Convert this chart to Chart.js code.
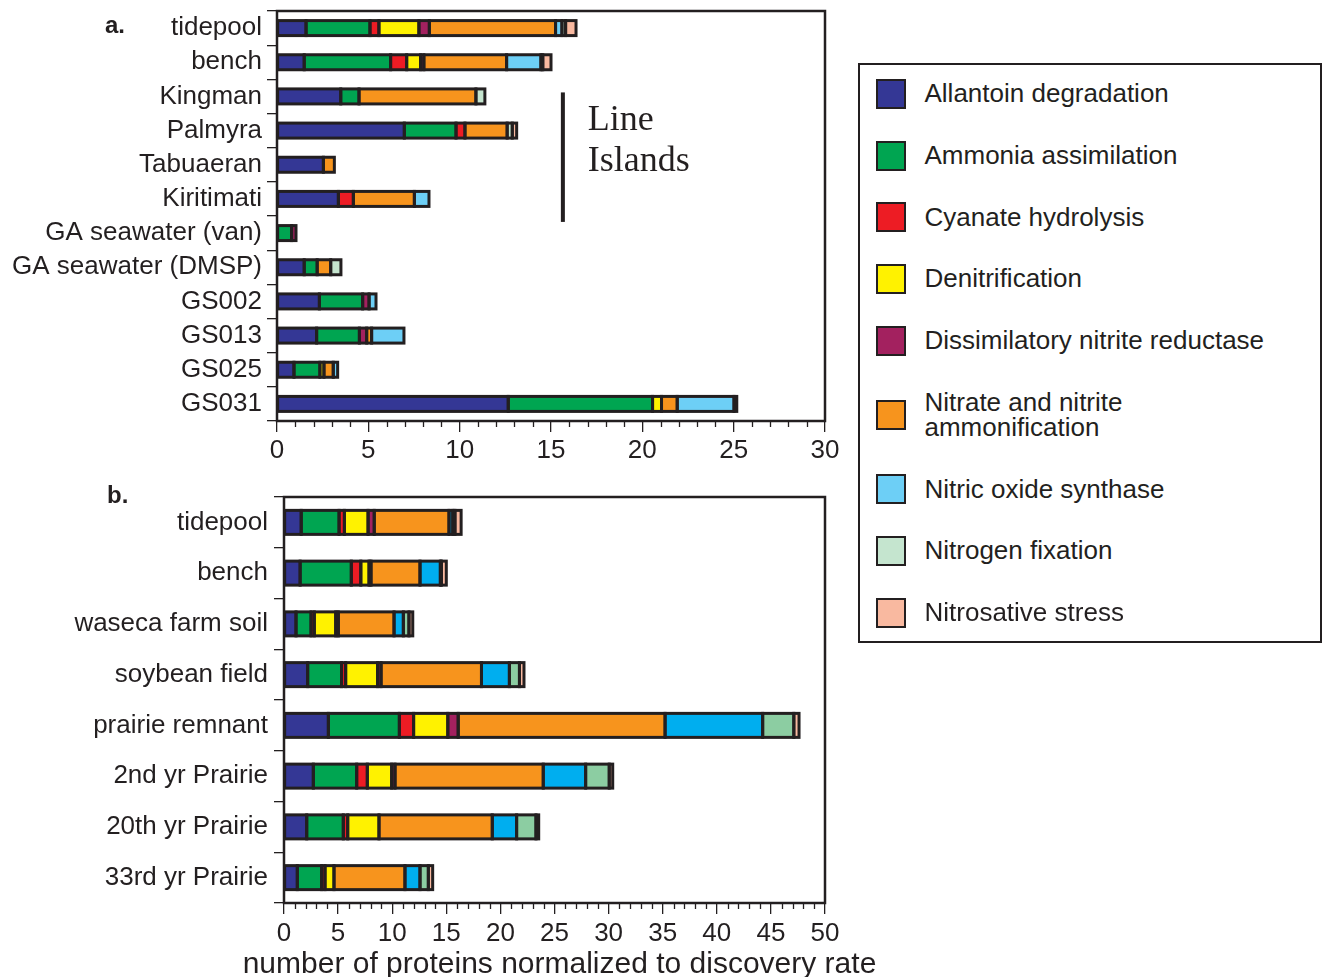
<!DOCTYPE html>
<html>
<head>
<meta charset="utf-8">
<script src="https://cdn.jsdelivr.net/npm/chart.js@4.4.1/dist/chart.umd.min.js"></script>
<style>
  html, body { margin: 0; padding: 0; background: #ffffff; }
  body {
    width: 1323px; height: 977px; position: relative; overflow: hidden;
    font-family: "Liberation Sans", Arial, Helvetica, sans-serif; color: #231F20;
  }
  canvas { position: absolute; left: 0; }
  #chartA { top: 0; }
  #chartB { top: 470px; }
  .panel-tag { position: absolute; font-weight: bold; font-size: 24px; line-height: 1; }
  #legend {
    position: absolute; left: 858px; top: 63px; width: 464px; height: 580px;
    box-sizing: border-box; border: 2.5px solid #231F20; background: #fff;
  }
  .row { position: absolute; left: 15.5px; display: flex; align-items: center; }
  .swatch { width: 30px; height: 30px; box-sizing: border-box; border: 2.5px solid #231F20; flex: none; }
  .name { margin-left: 19px; font-size: 26px; line-height: 25.5px; max-width: 360px; }
</style>
</head>
<body>
<canvas id="chartA" width="880" height="470"></canvas>
<canvas id="chartB" width="900" height="507"></canvas>
<div class="panel-tag" style="left:105px; top:13px;">a.</div>
<div class="panel-tag" style="left:107px; top:483px;">b.</div>
<div id="legend"></div>

<script>
// Nitrogen-cycle pathway categories (stack order, left to right)
const pathways = [
  "Allantoin degradation",
  "Ammonia assimilation",
  "Cyanate hydrolysis",
  "Denitrification",
  "Dissimilatory nitrite reductase",
  "Nitrate and nitrite ammonification",
  "Nitric oxide synthase",
  "Nitrogen fixation",
  "Nitrosative stress"
];
const coloursA = ["#343795", "#00A551", "#ED1C24", "#FFF200", "#A3215F",
                  "#F7941D", "#6DCFF6", "#C5E5CF", "#F9B9A0"];
const coloursB = ["#343795", "#00A551", "#ED1C24", "#FFF200", "#A3215F",
                  "#F7941D", "#00AEEF", "#8CCDA2", "#F9B9A0"];

// Panel a: marine samples
const sitesA = ["tidepool", "bench", "Kingman", "Palmyra", "Tabuaeran", "Kiritimati",
                "GA seawater (van)", "GA seawater (DMSP)", "GS002", "GS013", "GS025", "GS031"];
const allantoinA     = [1.59, 1.49, 3.49, 6.97, 2.54, 3.36, 0,    1.49, 2.32, 2.17, 0.93, 12.66];
const ammoniaA       = [3.50, 4.73, 1.00, 2.83, 0,    0,    0.80, 0.71, 2.37, 2.34, 1.42, 7.90];
const cyanateA       = [0.49, 0.88, 0,    0.49, 0,    0.82, 0,    0,    0,    0,    0,    0];
const denitrifA      = [2.19, 0.76, 0,    0,    0,    0,    0,    0,    0,    0,    0.22, 0.49];
const dissimA        = [0.57, 0.18, 0,    0,    0,    0,    0.24, 0,    0.35, 0.40, 0,    0];
const ammonifA       = [6.91, 4.53, 6.40, 2.31, 0.60, 3.34, 0,    0.74, 0,    0.27, 0.51, 0.86];
const noSynthaseA    = [0.35, 1.88, 0,    0,    0,    0.80, 0,    0,    0.38, 1.77, 0.24, 3.11];
const nFixationA     = [0.20, 0.10, 0.49, 0.28, 0,    0,    0,    0.56, 0,    0,    0,    0];
const nitrosativeA   = [0.57, 0.45, 0,    0.24, 0,    0,    0,    0,    0,    0,    0,    0.15];
const xTicksA = { max: 30, step: 5 };

// Panel b: soil samples
const sitesB = ["tidepool", "bench", "waseca farm soil", "soybean field", "prairie remnant",
                "2nd yr Prairie", "20th yr Prairie", "33rd yr Prairie"];
const allantoinB     = [1.59, 1.49, 1.11, 2.19, 4.10,  2.71,  2.10,  1.23];
const ammoniaB       = [3.50, 4.73, 1.39, 3.13, 6.56,  4.01,  3.38,  2.25];
const cyanateB       = [0.49, 0.88, 0.30, 0.38, 1.32,  0.98,  0.41,  0.31];
const denitrifB      = [2.19, 0.76, 1.98, 2.95, 3.16,  2.25,  2.89,  0.83];
const dissimB        = [0.57, 0.18, 0.24, 0.32, 0.96,  0.31,  0,     0];
const ammonifB       = [6.91, 4.53, 5.15, 9.28, 19.12, 13.70, 10.47, 6.56];
const noSynthaseB    = [0.35, 1.88, 0.86, 2.58, 9.02,  3.92,  2.25,  1.39];
const nFixationB     = [0.20, 0.10, 0.52, 0.93, 2.88,  2.18,  1.79,  0.77];
const nitrosativeB   = [0.57, 0.45, 0.35, 0.42, 0.48,  0.32,  0.25,  0.40];
const xTicksB = { max: 50, step: 5 };

const xTitleB = "number of proteins normalized to discovery rate";

const seriesA = [allantoinA, ammoniaA, cyanateA, denitrifA, dissimA, ammonifA, noSynthaseA, nFixationA, nitrosativeA];
const seriesB = [allantoinB, ammoniaB, cyanateB, denitrifB, dissimB, ammonifB, noSynthaseB, nFixationB, nitrosativeB];

const INK = "#231F20";
const FONT = '"Liberation Sans", Arial, Helvetica, sans-serif';

// Dark outline stroked centred on every bar segment edge, so neighbouring
// segments share one separator line
const outlinePlugin = {
  id: "segmentOutline",
  afterDatasetsDraw(chart) {
    const { ctx } = chart;
    ctx.save();
    ctx.strokeStyle = INK;
    ctx.lineWidth = 3;
    ctx.lineJoin = "miter";
    chart.data.datasets.forEach((ds, di) => {
      const meta = chart.getDatasetMeta(di);
      meta.data.forEach((bar, j) => {
        if (ds.data[j] == null) return;
        const { x, y, base, height } = bar.getProps(["x", "y", "base", "height"], true);
        if (!isFinite(x) || !isFinite(base)) return;
        ctx.strokeRect(Math.min(x, base), y - height / 2, Math.abs(x - base), height);
      });
    });
    ctx.restore();
  }
};

// Box around the plot area plus unlabeled 1-unit minor ticks on the value axis
const framePlugin = {
  id: "frame",
  afterDraw(chart) {
    const { ctx, chartArea: { left, top, right, bottom } } = chart;
    const xs = chart.scales.x;
    ctx.save();
    ctx.strokeStyle = INK;
    ctx.lineWidth = 1.3;
    for (let v = xs.min; v <= xs.max; v += 1) {
      if (v % 5 === 0) continue;
      const px = Math.round(xs.getPixelForValue(v)) + 0.5;
      ctx.beginPath();
      ctx.moveTo(px, bottom);
      ctx.lineTo(px, bottom + 6);
      ctx.stroke();
    }
    ctx.lineWidth = 2.5;
    ctx.strokeRect(left, top, right - left, bottom - top);
    ctx.restore();
  }
};

// Value-axis title, centred under the plot and allowed to run past its edges
const axisTitlePlugin = {
  id: "axisTitle",
  afterDraw(chart, args, opts) {
    if (!opts.text) return;
    const { ctx, chartArea: { left, right } } = chart;
    ctx.save();
    ctx.fillStyle = INK;
    ctx.font = "30px " + FONT;
    ctx.textAlign = "center";
    ctx.textBaseline = "alphabetic";
    ctx.fillText(opts.text, (left + right) / 2 + 5, chart.height - 4);
    ctx.restore();
  }
};

// Bracket marking the Line Islands group in panel a
const lineIslandsPlugin = {
  id: "lineIslands",
  afterDraw(chart) {
    const { ctx, scales: { x, y } } = chart;
    const bx = x.getPixelForValue(15.65);
    const y0 = y.getPixelForValue(sitesA.indexOf("Kingman")) - 4;
    const y1 = y.getPixelForValue(sitesA.indexOf("Kiritimati")) + 23;
    ctx.save();
    ctx.fillStyle = INK;
    ctx.fillRect(bx - 2, y0, 4, y1 - y0);
    ctx.font = '36px "Liberation Serif", "Times New Roman", serif';
    ctx.textAlign = "left";
    ctx.textBaseline = "alphabetic";
    ctx.fillText("Line", bx + 25, y0 + 38);
    ctx.fillText("Islands", bx + 25, y0 + 79);
    ctx.restore();
  }
};

function makeChart(canvasId, labels, series, colours, opts) {
  const datasets = series.map((vals, i) => ({
    label: pathways[i],
    data: vals.map(v => (v === 0 ? null : v)),
    backgroundColor: colours[i],
    borderWidth: 0,
    barThickness: opts.barThickness
  }));
  return new Chart(document.getElementById(canvasId), {
    type: "bar",
    data: { labels, datasets },
    plugins: opts.plugins,
    options: {
      indexAxis: "y",
      responsive: false,
      animation: false,
      devicePixelRatio: 1,
      layout: { padding: { top: opts.padTop, right: opts.padRight, left: 0, bottom: 0 } },
      plugins: {
        legend: { display: false },
        tooltip: { enabled: false },
        axisTitle: { text: opts.xTitle || "" }
      },
      scales: {
        x: {
          type: "linear", stacked: true, min: 0, max: opts.ticks.max,
          ticks: {
            stepSize: opts.ticks.step, color: INK, padding: opts.xLabelPad,
            font: { family: FONT, size: 26, lineHeight: 1 }
          },
          grid: { drawOnChartArea: false, tickLength: 11, color: INK, lineWidth: 1.3 },
          border: { display: false },
          afterFit(scale) {
            scale.height = opts.xHeight;
            scale.paddingLeft = 0; scale.paddingRight = 0;
          }
        },
        y: {
          type: "category", stacked: true,
          ticks: {
            autoSkip: false, color: INK, padding: opts.yLabelPad,
            font: { family: FONT, size: 26 }
          },
          grid: { offset: true, drawOnChartArea: false, tickLength: 10, color: INK, lineWidth: 1.3 },
          border: { display: false },
          afterFit(scale) {
            scale.width = opts.yWidth;
            scale.paddingTop = 0; scale.paddingBottom = 0;
          }
        }
      }
    }
  });
}

makeChart("chartA", sitesA, seriesA, coloursA, {
  barThickness: 15, padTop: 11, padRight: 55, yWidth: 277, xHeight: 49,
  xLabelPad: 6, yLabelPad: 5, ticks: xTicksA,
  plugins: [outlinePlugin, framePlugin, lineIslandsPlugin]
});

makeChart("chartB", sitesB, seriesB, coloursB, {
  barThickness: 24, padTop: 27, padRight: 75, yWidth: 284, xHeight: 74,
  xLabelPad: 7, yLabelPad: 6, ticks: xTicksB, xTitle: xTitleB,
  plugins: [outlinePlugin, framePlugin, axisTitlePlugin]
});

// Shared legend, built from the pathway list and panel a colours
(function buildLegend() {
  const box = document.getElementById("legend");
  const single = 61.7, double = 87;
  let y = 29 - single / 2;
  pathways.forEach((name, i) => {
    const h = name.length > 32 ? double : single;
    const row = document.createElement("div");
    row.className = "row";
    row.style.top = y + "px";
    row.style.height = h + "px";
    const sw = document.createElement("div");
    sw.className = "swatch";
    sw.style.background = coloursA[i];
    const tx = document.createElement("div");
    tx.className = "name";
    tx.textContent = name;
    row.appendChild(sw);
    row.appendChild(tx);
    box.appendChild(row);
    y += h;
  });
})();
</script>
</body>
</html>
